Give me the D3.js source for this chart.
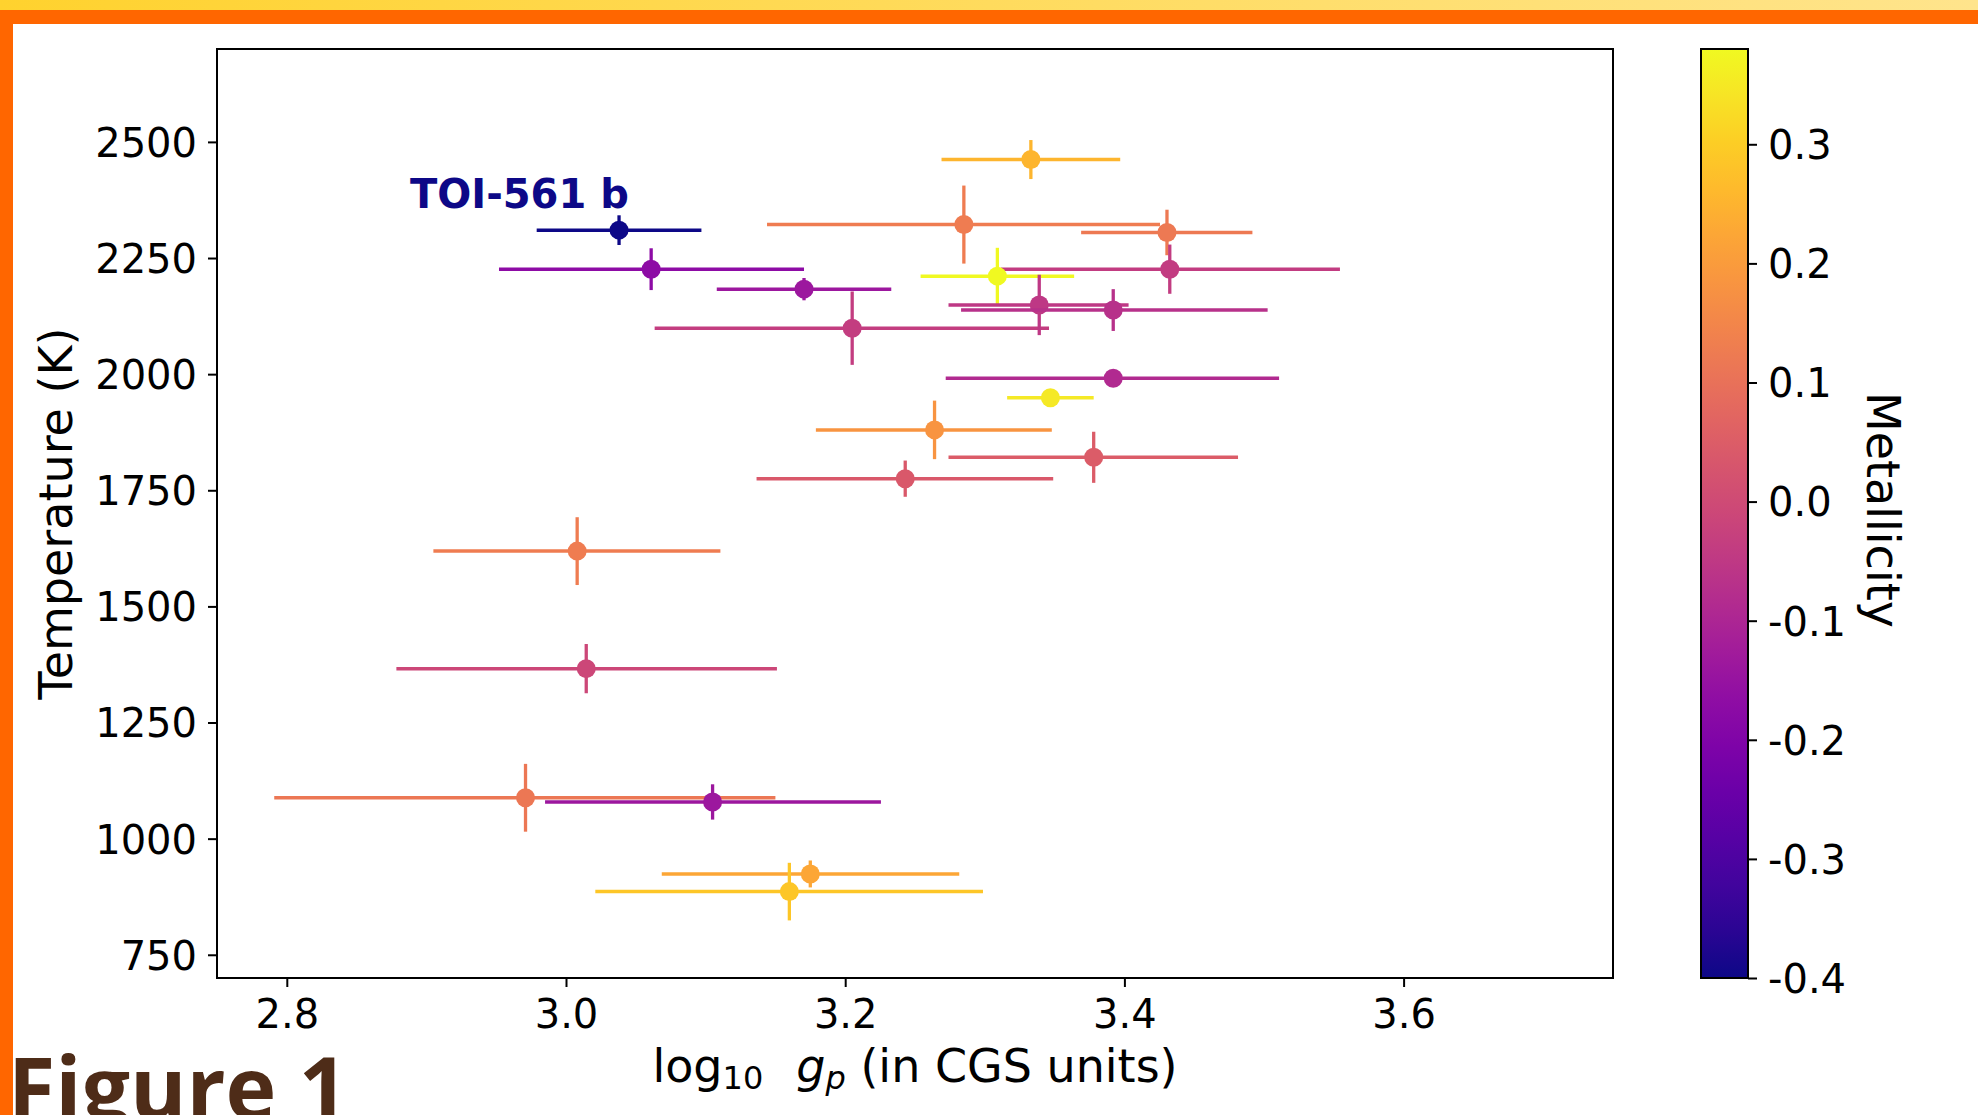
<!DOCTYPE html>
<html>
<head>
<meta charset="utf-8">
<script src="https://cdn.jsdelivr.net/npm/d3@7"></script>
<style>
  html, body { margin: 0; padding: 0; background: #fff; overflow: hidden; }
  svg { display: block; font-family: "DejaVu Sans", sans-serif; }
</style>
</head>
<body>
<svg id="chart" width="1978" height="1115"></svg>
<script>
// planets: log10 g_p, its error bar ends, temperature, its error, metallicity
const logg    = [3.038, 3.061, 3.1705, 3.205, 3.333, 3.285, 3.4305, 3.4325, 3.309, 3.339, 3.392, 3.392, 3.347, 3.264, 3.378, 3.243, 3.008, 3.0145, 2.971, 3.105, 3.175, 3.160];
const loggLo  = [2.979, 2.952, 3.108, 3.0635, 3.269, 3.144, 3.369, 3.3116, 3.254, 3.274, 3.283, 3.272, 3.316, 3.179, 3.274, 3.1365, 2.905, 2.8785, 2.791, 2.985, 3.0686, 3.021];
const loggHi  = [3.097, 3.1705, 3.233, 3.346, 3.397, 3.4255, 3.4917, 3.5544, 3.364, 3.403, 3.5026, 3.5108, 3.378, 3.348, 3.4814, 3.349, 3.1106, 3.1511, 3.150, 3.2256, 3.2817, 3.2987];
const temp    = [2310, 2226, 2183, 2099, 2462, 2322, 2305, 2226, 2211, 2149, 2138, 1991, 1949, 1880, 1821, 1775, 1619, 1366, 1088, 1079, 924, 886];
const tempErr = [32, 45, 24, 79, 42, 84, 49, 53, 61, 65, 45, 12, 0, 63, 55, 39, 73, 53, 73, 38, 29, 62];
const metal   = [-0.40, -0.174, -0.14, -0.037, 0.255, 0.13, 0.12, -0.04, 0.38, -0.05, -0.07, -0.088, 0.35, 0.185, 0.045, 0.037, 0.13, -0.01, 0.115, -0.14, 0.224, 0.286];

const xTicks = [2.8, 3.0, 3.2, 3.4, 3.6];
const yTicks = [750, 1000, 1250, 1500, 1750, 2000, 2250, 2500];
const cTicks = [-0.4, -0.3, -0.2, -0.1, 0.0, 0.1, 0.2, 0.3];

const svg = d3.select('#chart');

// slide frame
const defs = svg.append('defs');
const band = defs.append('linearGradient').attr('id', 'band').attr('x1', '0%').attr('x2', '100%');
band.append('stop').attr('offset', '0%').attr('stop-color', '#ffd22e');
band.append('stop').attr('offset', '100%').attr('stop-color', '#ffe48c');
svg.append('rect').attr('x', 0).attr('y', 0).attr('width', 1978).attr('height', 10).attr('fill', 'url(#band)');
svg.append('rect').attr('x', 0).attr('y', 10).attr('width', 1978).attr('height', 14).attr('fill', '#ff6600');
svg.append('rect').attr('x', 0).attr('y', 10).attr('width', 13).attr('height', 1105).attr('fill', '#ff6600');

const margin = { top: 49, left: 217, right: 1613, bottom: 978 };
const x = d3.scaleLinear().domain([2.75, 3.75]).range([margin.left, margin.right]);
const y = d3.scaleLinear().domain([700, 2700]).range([margin.bottom, margin.top]);
const c = d3.scaleSequential(d3.interpolatePlasma).domain([-0.4, 0.38]);

const g = svg.append('g');

// error bars then markers
const pts = d3.range(temp.length);
const eb = g.selectAll('g.pt').data(pts).enter().append('g').attr('class', 'pt');
eb.append('line')
  .attr('x1', i => x(loggLo[i])).attr('x2', i => x(loggHi[i]))
  .attr('y1', i => y(temp[i])).attr('y2', i => y(temp[i]))
  .attr('stroke', i => c(metal[i])).attr('stroke-width', 3.5);
eb.append('line')
  .attr('x1', i => x(logg[i])).attr('x2', i => x(logg[i]))
  .attr('y1', i => y(temp[i] - tempErr[i])).attr('y2', i => y(temp[i] + tempErr[i]))
  .attr('stroke', i => c(metal[i])).attr('stroke-width', 3.3);
eb.append('circle')
  .attr('cx', i => x(logg[i])).attr('cy', i => y(temp[i])).attr('r', 9.5)
  .attr('fill', i => c(metal[i]));

g.append('text').attr('x', 410).attr('y', 208)
  .attr('font-size', 40).attr('font-weight', 'bold').attr('fill', '#0d0887')
  .text('TOI-561 b');

// axes
const xAxis = d3.axisBottom(x).tickValues(xTicks).tickFormat(d3.format('.1f')).tickSize(9).tickPadding(13);
const yAxis = d3.axisLeft(y).tickValues(yTicks).tickSize(9).tickPadding(11).tickFormat(d => d);
const ax = svg.append('g').attr('transform', `translate(0,${margin.bottom})`).call(xAxis);
const ay = svg.append('g').attr('transform', `translate(${margin.left},0)`).call(yAxis);
[ax, ay].forEach(a => {
  a.select('.domain').remove();
  a.selectAll('line').attr('stroke', '#000').attr('stroke-width', 2);
  a.selectAll('text').attr('font-size', 40).attr('font-family', 'DejaVu Sans').attr('fill', '#000');
});
ay.selectAll('text').attr('dy', '0.36em');
svg.append('rect').attr('x', margin.left).attr('y', margin.top)
  .attr('width', margin.right - margin.left).attr('height', margin.bottom - margin.top)
  .attr('fill', 'none').attr('stroke', '#000').attr('stroke-width', 2);

svg.append('text').attr('transform', `translate(72,${(margin.top + margin.bottom) / 2}) rotate(-90)`)
  .attr('text-anchor', 'middle').attr('font-size', 46).text('Temperature (K)');

const xl = svg.append('text').attr('x', (margin.left + margin.right) / 2).attr('y', 1082)
  .attr('text-anchor', 'middle').attr('font-size', 46);
xl.append('tspan').text('log');
xl.append('tspan').attr('font-size', 32).attr('dy', 7).text('10');
xl.append('tspan').attr('dy', -7).attr('dx', 10).text('\u2002');
xl.append('tspan').attr('font-style', 'italic').text('g');
xl.append('tspan').attr('font-style', 'italic').attr('font-size', 32).attr('dy', 7).text('p');
xl.append('tspan').attr('dy', -7).text(' (in CGS units)');

// colorbar
const cb = { x0: 1701, x1: 1748 };
const cy = d3.scaleLinear().domain([-0.4, 0.38]).range([margin.bottom, margin.top]);
const grad = defs.append('linearGradient').attr('id', 'plasma').attr('x1', 0).attr('x2', 0).attr('y1', 1).attr('y2', 0);
d3.range(0, 1.0001, 0.05).forEach(t => {
  grad.append('stop').attr('offset', t).attr('stop-color', d3.interpolatePlasma(t));
});
svg.append('rect').attr('x', cb.x0).attr('y', margin.top).attr('width', cb.x1 - cb.x0)
  .attr('height', margin.bottom - margin.top).attr('fill', 'url(#plasma)')
  .attr('stroke', '#000').attr('stroke-width', 2);
const ac = svg.append('g').attr('transform', `translate(${cb.x1},0)`)
  .call(d3.axisRight(cy).tickValues(cTicks).tickSize(9).tickPadding(11).tickFormat(d3.format('.1f')));
ac.select('.domain').remove();
ac.selectAll('line').attr('stroke', '#000').attr('stroke-width', 2);
ac.selectAll('text').attr('font-size', 40).attr('font-family', 'DejaVu Sans').attr('fill', '#000')
  .attr('dy', '0.36em')
  .text(d => d3.format('.1f')(d).replace('\u2212', '-'));

svg.append('text').attr('transform', `translate(1867,510) rotate(90)`)
  .attr('text-anchor', 'middle').attr('font-size', 46).text('Metallicity');

// caption cut off at bottom
svg.append('text').attr('x', 8).attr('y', 1119)
  .attr('font-family', '"Open Sans", sans-serif').attr('font-weight', 'bold')
  .attr('font-size', 86).attr('fill', '#4e2c18').text('Figure 1');
</script>
</body>
</html>
